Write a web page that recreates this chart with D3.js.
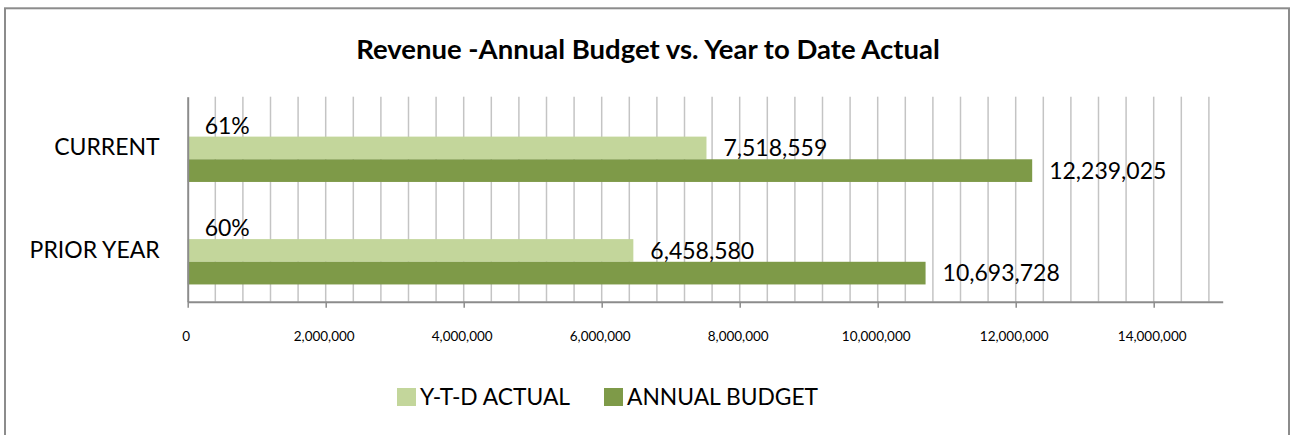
<!DOCTYPE html>
<html>
<head>
<meta charset="utf-8">
<script src="https://cdn.jsdelivr.net/npm/d3@7"></script>
<style>
  html, body { margin: 0; padding: 0; background: #fff; }
  svg { display: block; font-family: Lato, "Open Sans", sans-serif; }
</style>
</head>
<body>
<svg id="chart" width="1291" height="435"></svg>
<script>
// Revenue: annual budget vs. year-to-date actual
const categories = ["CURRENT", "PRIOR YEAR"];
const ytdActual = [7518559, 6458580];
const annualBudget = [12239025, 10693728];
const pctOfBudget = [0.61, 0.60];
const tickValues = [0, 2000000, 4000000, 6000000, 8000000, 10000000, 12000000, 14000000];
const seriesNames = ["Y-T-D ACTUAL", "ANNUAL BUDGET"];

const colors = { pct: "none", ytd: "#c3d69b", budget: "#7e9a48" };

const svg = d3.select("#chart");

// outer chart frame
svg.append("rect")
  .attr("x", 5).attr("y", 8.3)
  .attr("width", 1284).attr("height", 460)
  .attr("fill", "#fff").attr("stroke", "#8c8c8c").attr("stroke-width", 2);

// title
svg.append("text")
  .attr("x", 648).attr("y", 59)
  .attr("text-anchor", "middle")
  .style("font-weight", "bold").style("font-size", "27.5px")
  .text("Revenue -Annual Budget vs. Year to Date Actual");

const plot = { left: 187.7, right: 1222.7, top: 96.7, bottom: 301.7 };

const x = d3.scaleLinear().domain([0, 15000000]).range([plot.left, plot.right]);

const y = d3.scaleBand()
  .domain(categories)
  .range([plot.top, plot.bottom])
  .paddingInner(0.3366)
  .paddingOuter(0.1683);

const sub = d3.scaleBand()
  .domain(["pct", "ytd", "budget"])
  .range([0, y.bandwidth()]);

// vertical gridlines every 400,000
const gridVals = d3.range(400000, 15000000, 400000);
svg.append("g")
  .selectAll("line")
  .data(gridVals)
  .join("line")
  .attr("x1", d => x(d)).attr("x2", d => x(d))
  .attr("y1", plot.top).attr("y2", plot.bottom)
  .attr("stroke", "#c4c4c4").attr("stroke-width", 1.5);

// rows of data
const rows = categories.map((c, i) => ({
  cat: c,
  vals: [
    { key: "pct", value: pctOfBudget[i], label: d3.format(".0%")(pctOfBudget[i]) },
    { key: "ytd", value: ytdActual[i], label: d3.format(",")(ytdActual[i]) },
    { key: "budget", value: annualBudget[i], label: d3.format(",")(annualBudget[i]) }
  ]
}));

const groups = svg.append("g")
  .selectAll("g")
  .data(rows)
  .join("g")
  .attr("transform", d => `translate(0,${y(d.cat)})`);

groups.selectAll("rect")
  .data(d => d.vals)
  .join("rect")
  .attr("x", x(0))
  .attr("y", d => sub(d.key))
  .attr("width", d => x(d.value) - x(0))
  .attr("height", sub.bandwidth())
  .attr("fill", d => colors[d.key]);

groups.selectAll("text")
  .data(d => d.vals)
  .join("text")
  .attr("x", d => x(d.value) + 17)
  .attr("y", d => sub(d.key) + sub.bandwidth() / 2)
  .attr("dy", "0.36em")
  .style("font-size", "23px")
  .attr("fill", "#000")
  .text(d => d.label);

// category axis
const yAxis = svg.append("g")
  .attr("transform", `translate(${plot.left},0)`)
  .call(d3.axisLeft(y).tickSize(0).tickPadding(28));
yAxis.select(".domain").attr("stroke", "#8c8c8c").attr("stroke-width", 2);
yAxis.selectAll("text")
  .style("font-size", "23px").style("font-family", "Lato, sans-serif")
  .attr("fill", "#000");

// value axis
const xAxis = svg.append("g")
  .attr("transform", `translate(0,${plot.bottom})`)
  .call(d3.axisBottom(x).tickValues(tickValues).tickSize(6).tickSizeOuter(0)
        .tickFormat(d3.format(",")).tickPadding(24));
xAxis.select(".domain").attr("stroke", "#8c8c8c").attr("stroke-width", 2);
xAxis.selectAll(".tick line").attr("stroke", "#8c8c8c").attr("stroke-width", 1.5);
xAxis.selectAll("text")
  .style("font-size", "13.5px").style("font-family", "Lato, sans-serif")
  .attr("fill", "#000").attr("dx", "-2");

// legend
const legendItems = [
  { name: seriesNames[0], color: colors.ytd, x: 397 },
  { name: seriesNames[1], color: colors.budget, x: 604 }
];
const legend = svg.append("g");
const li = legend.selectAll("g").data(legendItems).join("g")
  .attr("transform", d => `translate(${d.x},388)`);
li.append("rect").attr("width", 19).attr("height", 18).attr("fill", d => d.color);
li.append("text")
  .attr("x", 23).attr("y", 17)
  .style("font-size", "22.8px")
  .text(d => d.name);
</script>
</body>
</html>
